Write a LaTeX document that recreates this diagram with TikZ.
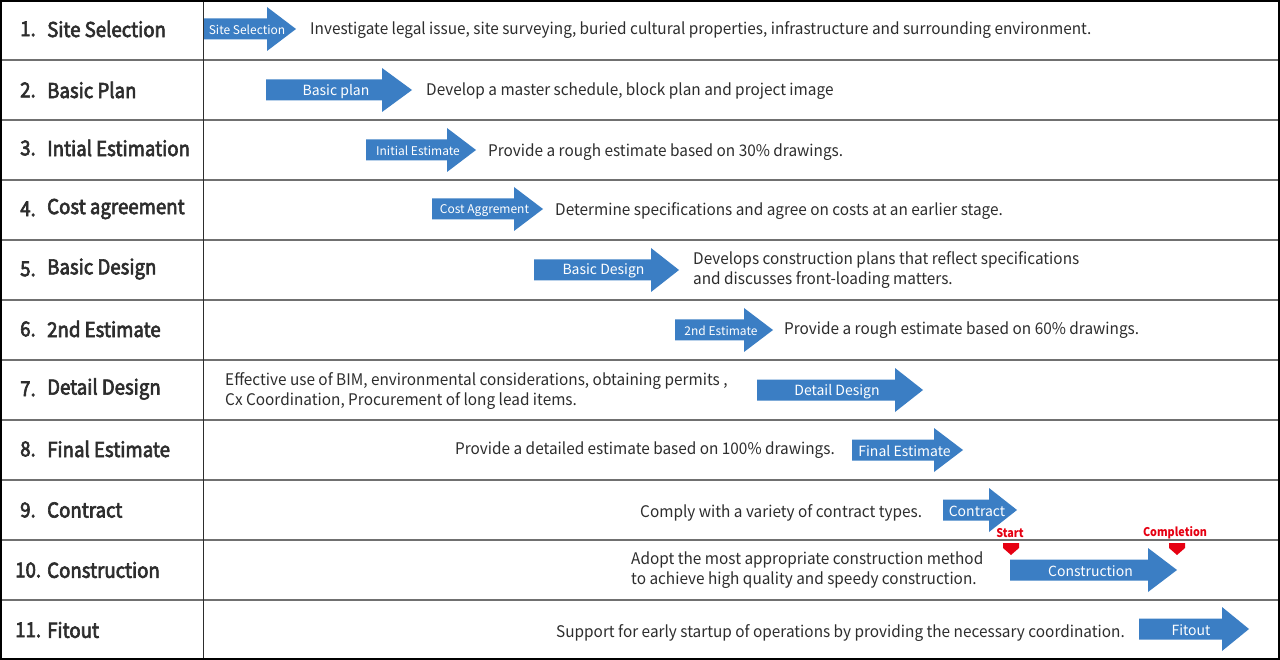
\documentclass[tikz,border=0pt]{standalone}
\usepackage{fontspec}
\setmainfont{Noto Sans CJK JP}
\newfontfamily\descfont[FakeStretch=0.96]{Noto Sans CJK JP}
\newfontfamily\lblfont[FakeStretch=0.91,FakeBold=3]{Noto Sans CJK JP}
\newfontfamily\mkfont[FakeStretch=0.9]{Noto Sans CJK JP}
\definecolor{arrblue}{RGB}{59,126,196}
\definecolor{txt}{RGB}{45,45,45}
\definecolor{mred}{RGB}{230,0,18}
\definecolor{rulegray}{RGB}{112,112,112}
\tikzset{
  rowline/.style={draw=rulegray, line width=2pt},
  desc/.style={anchor=west, inner sep=0pt, text=txt, align=left, font=\descfont\fontsize{16}{20}\selectfont},
  rowlbl/.style={anchor=west, inner sep=0pt, text=txt, font=\lblfont\fontsize{20.5}{24}\selectfont},
  albl/.style={inner sep=0pt, text=white},
  mlbl/.style={inner sep=0pt, text=mred, font=\mkfont\fontsize{12}{14}\selectfont\bfseries},
  marker/.style={fill=mred}
}
\newcommand\parrow[7]{%
  \fill[arrblue] (#2,#5-10.5) -- (#3,#5-10.5) -- (#3,#5-22) -- (#4,#5) -- (#3,#5+22) -- (#3,#5+10.5) -- (#2,#5+10.5) -- cycle;
  \node[albl,font=#7] (#1) at ({(#2+#4)/2-3},#5+1.2) {#6};}
\newcommand\smallf{\fontsize{12}{14}\selectfont}
\newcommand\bigf{\fontsize{14}{16}\selectfont}
\begin{document}
\begin{tikzpicture}[x=1pt,y=-1pt]
\useasboundingbox (0,0) rectangle (1280,660);
\fill[white] (0,0) rectangle (1280,660);
% grid
\foreach \yy in {60,120,...,600} \draw[rowline] (0,\yy) -- (1280,\yy);
\draw[draw=txt, line width=1.5pt] (203.5,0) -- (203.5,660);
\draw[black, line width=2pt] (1,1) rectangle (1279,659);
% row labels
\node[rowlbl] (n1) at (20,29) {1.};  \node[rowlbl] (t1) at (47,29) {Site Selection};
\node[rowlbl] (n2) at (20,90) {2.};  \node[rowlbl] (t2) at (47,90) {Basic Plan};
\node[rowlbl] (n3) at (20,148) {3.}; \node[rowlbl] (t3) at (47,148) {Intial Estimation};
\node[rowlbl] (n4) at (20,209) {4.}; \node[rowlbl] (t4) at (47,209) {Cost agreement};
\node[rowlbl] (n5) at (20,269) {5.}; \node[rowlbl] (t5) at (47,269) {Basic Design};
\node[rowlbl] (n6) at (20,329) {6.}; \node[rowlbl] (t6) at (47,329) {2nd Estimate};
\node[rowlbl] (n7) at (20,389) {7.}; \node[rowlbl] (t7) at (47,389) {Detail Design};
\node[rowlbl] (n8) at (20,449) {8.}; \node[rowlbl] (t8) at (47,449) {Final Estimate};
\node[rowlbl] (n9) at (20,510) {9.}; \node[rowlbl] (t9) at (47,510) {Contract};
\node[rowlbl] (n10) at (15,570) {10.}; \node[rowlbl] (t10) at (47,570) {Construction};
\node[rowlbl] (n11) at (15,630) {11.}; \node[rowlbl] (t11) at (47,630) {Fitout};
% arrows
\parrow{a1}{204}{267}{296}{29}{Site Selection}{\smallf}
\parrow{a2}{266}{382}{412}{90}{Basic plan}{\bigf}
\parrow{a3}{366}{447}{476}{150}{Initial Estimate}{\smallf}
\parrow{a4}{432}{514}{543}{209}{Cost Aggrement}{\smallf}
\parrow{a5}{534}{651}{679}{270}{Basic Design}{\bigf}
\parrow{a6}{675}{744}{773}{330}{2nd Estimate}{\smallf}
\parrow{a7}{757}{895}{923}{390}{Detail Design}{\bigf}
\parrow{a8}{852}{934}{963}{450}{Final Estimate}{\bigf}
\parrow{a9}{943}{989}{1017}{510}{Contract}{\bigf}
\parrow{a10}{1010}{1148}{1177}{570}{Construction}{\bigf}
\parrow{a11}{1139}{1222}{1249}{629}{Fitout}{\bigf}
% descriptions
\node[desc] (d1) at (310,30) {Investigate legal issue, site surveying, buried cultural properties, infrastructure and surrounding environment.};
\node[desc] (d2) at (426,91) {Develop a master schedule, block plan and project image};
\node[desc] (d3) at (488,152) {Provide a rough estimate based on 30\% drawings.};
\node[desc] (d4) at (555,211) {Determine specifications and agree on costs at an earlier stage.};
\node[desc] (d5) at (693,270) {Develops construction plans that reflect specifications\\and discusses front-loading matters.};
\node[desc] (d6) at (784,330) {Provide a rough estimate based on 60\% drawings.};
\node[desc] (d7) at (225,391) {Effective use of BIM, environmental considerations, obtaining permits ,\\Cx Coordination, Procurement of long lead items.};
\node[desc] (d8) at (455,450) {Provide a detailed estimate based on 100\% drawings.};
\node[desc] (d9) at (640,513) {Comply with a variety of contract types.};
\node[desc] (d10) at (631,570) {Adopt the most appropriate construction method\\to achieve high quality and speedy construction.};
\node[desc] (d11) at (556,633) {Support for early startup of operations by providing the necessary coordination.};
% markers
\fill[marker] (1003,543) -- (1019,543) -- (1019,548) -- (1011,555) -- (1003,548) -- cycle;
\fill[marker] (1169,543) -- (1185,543) -- (1185,548) -- (1177,555) -- (1169,548) -- cycle;
\node[mlbl] (ms) at (1010,533) {Start};
\node[mlbl] (mc) at (1175,533) {Completion};
\end{tikzpicture}
\end{document}
